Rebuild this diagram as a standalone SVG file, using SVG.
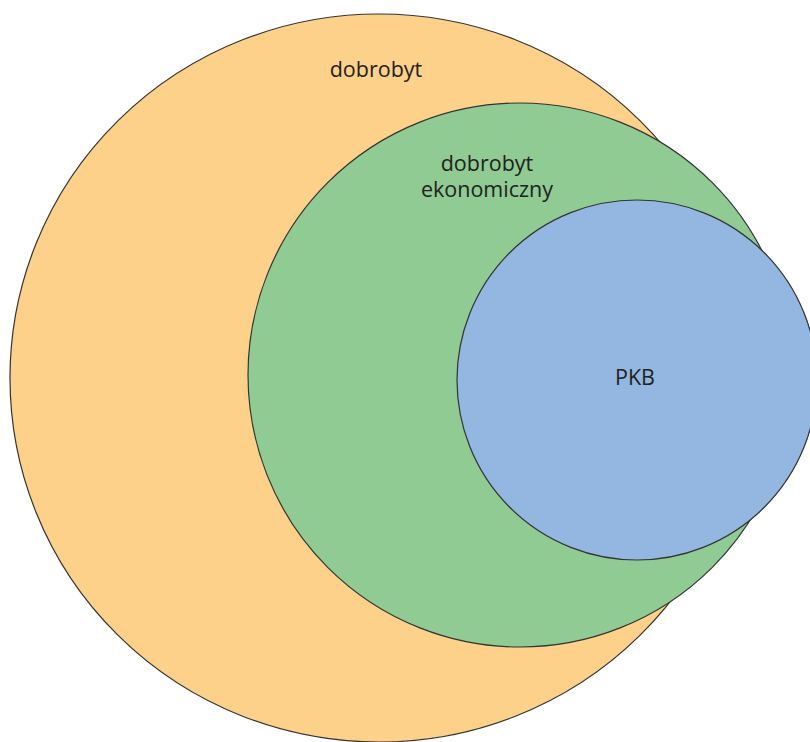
<svg xmlns="http://www.w3.org/2000/svg" width="810" height="742" viewBox="0 0 810 742">
<style>
.s{stroke:#333;stroke-width:1.2}
.t{font-family:"Open Sans","Noto Sans",sans-serif;font-size:21.5px;fill:#222;text-anchor:middle}
</style>
<rect width="810" height="742" fill="#fff"/>
<g id="dobrobyt">
<ellipse class="s" cx="379" cy="378" rx="369" ry="364" fill="#FDD18A"/>
<text class="t" x="376" y="77">dobrobyt</text>
</g>
<g id="dobrobyt-ekonomiczny">
<circle class="s" cx="520" cy="375" r="272" fill="#8FCB93"/>
<text class="t" x="487" y="171">dobrobyt</text>
<text class="t" x="487" y="197">ekonomiczny</text>
</g>
<g id="pkb">
<circle class="s" cx="637" cy="380" r="180" fill="#93B7E0"/>
<text class="t" x="635" y="385">PKB</text>
</g>
<g id="connectors"/>
</svg>
